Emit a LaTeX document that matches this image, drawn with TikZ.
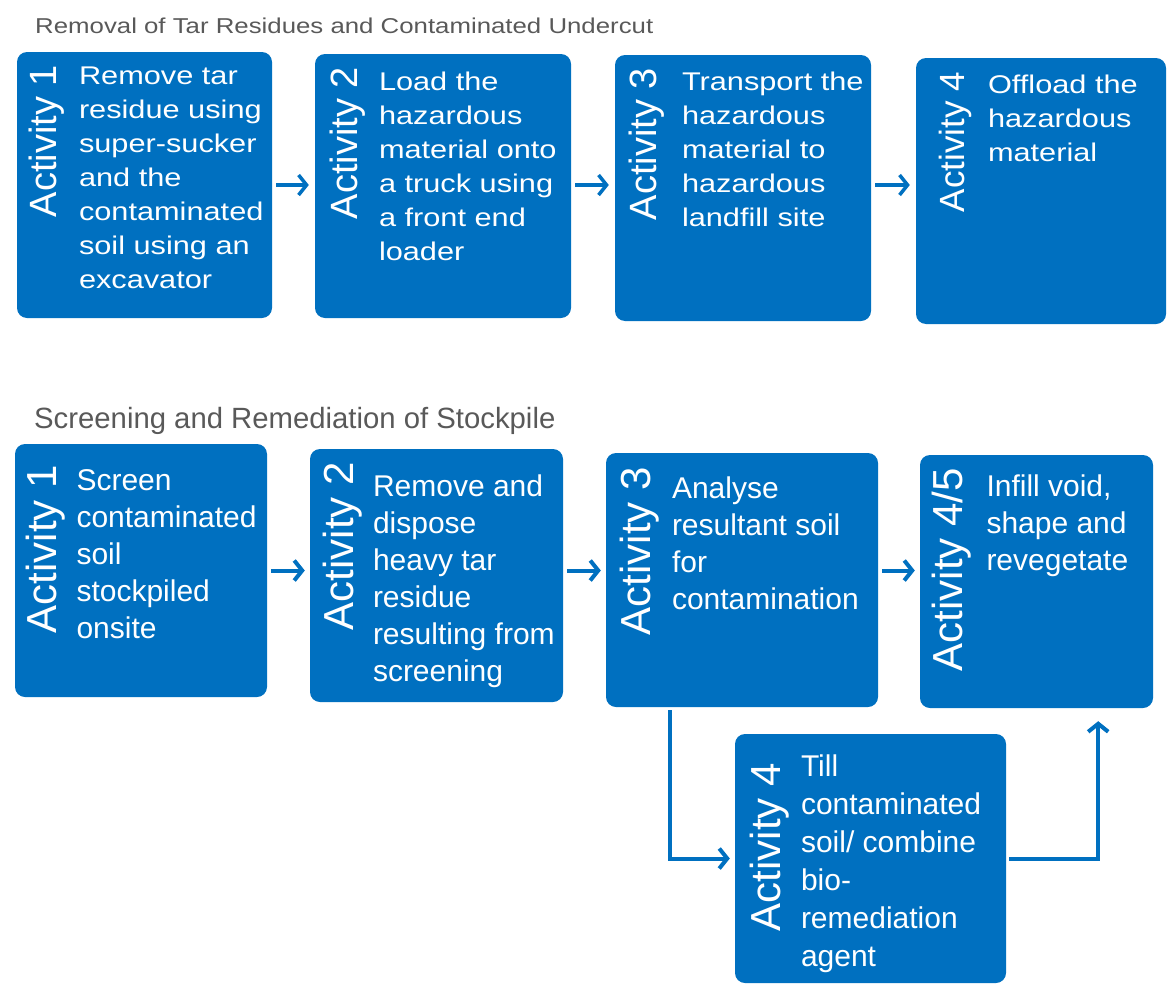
\documentclass[tikz,border=0pt]{standalone}
\usepackage{fontspec}
\setmainfont{Liberation Sans}
\newfontfamily\widesans[FakeStretch=1.2]{Liberation Sans}
\usetikzlibrary{arrows.meta, positioning}
\definecolor{actblue}{RGB}{0,112,192}
\definecolor{headgray}{RGB}{89,89,89}

\begin{document}
\begin{tikzpicture}[x=1pt, y=-1pt,
    actbox/.style={fill=actblue, rounded corners=10pt, inner sep=0pt},
    actlabel/.style={rotate=90, anchor=base east, text=white, inner sep=0pt},
    acttext/.style={anchor=north west, align=left, text=white, inner sep=0pt},
    flow/.style={actblue, line width=3.5pt, -{Straight Barb[length=8pt, width=20pt]}}]

    \useasboundingbox (0,0) rectangle (1168,985);

    % Titles
    \node[anchor=base west, inner sep=0pt, text=headgray, font=\widesans\fontsize{21.5}{21.5}\selectfont] (title1) at (35,33) {Removal of Tar Residues and Contaminated Undercut};
    \node[anchor=base west, inner sep=0pt, text=headgray, font=\fontsize{29.3}{29.3}\selectfont] (title2) at (34,428) {Screening and Remediation of Stockpile};

    % Top row boxes
    \node[actbox, minimum width=255, minimum height=266] (t1) at (144.5,185) {};
    \node[actbox, minimum width=256, minimum height=264] (t2) at (443,186) {};
    \node[actbox, minimum width=256, minimum height=266] (t3) at (743,188) {};
    \node[actbox, minimum width=250, minimum height=266] (t4) at (1041,191) {};

    % Top row labels
    \node[actlabel, font=\fontsize{38}{38}\selectfont] (t1l) at ([shift={(40,13)}]t1.north west) {Activity 1};
    \node[actlabel, font=\fontsize{38}{38}\selectfont] (t2l) at ([shift={(43,13)}]t2.north west) {Activity 2};
    \node[actlabel, font=\fontsize{38}{38}\selectfont] (t3l) at ([shift={(42,13)}]t3.north west) {Activity 3};
    \node[actlabel, font=\fontsize{35}{35}\selectfont] (t4l) at ([shift={(49,14)}]t4.north west) {Activity 4};

    % Top row texts
    \node[acttext, font=\widesans\fontsize{25.6}{34}\selectfont] (t1t) at ([shift={(62,15)}]t1.north west)
        {Remove tar\\residue using\\super-sucker\\and the\\contaminated\\soil using an\\excavator};
    \node[acttext, font=\widesans\fontsize{25.6}{34}\selectfont] (t2t) at ([shift={(64,18)}]t2.north west)
        {Load the\\hazardous\\material onto\\a truck using\\a front end\\loader};
    \node[acttext, font=\widesans\fontsize{25.6}{34}\selectfont] (t3t) at ([shift={(67,17)}]t3.north west)
        {Transport the\\hazardous\\material to\\hazardous\\landfill site};
    \node[acttext, font=\widesans\fontsize{25.6}{34}\selectfont] (t4t) at ([shift={(72,17)}]t4.north west)
        {Offload the\\hazardous\\material};

    % Top row arrows
    \foreach \a/\b in {t1/t2, t2/t3, t3/t4} {
        \draw[flow, shorten <=4pt, shorten >=6pt] (\a.east |- t1.east) -- (\b.west |- t1.east);
    }

    % Bottom row boxes
    \node[actbox, minimum width=252, minimum height=253] (b1) at (141,570.5) {};
    \node[actbox, minimum width=253, minimum height=253] (b2) at (436.5,575.5) {};
    \node[actbox, minimum width=272, minimum height=254] (b3) at (742,580) {};
    \node[actbox, minimum width=233, minimum height=253] (b45) at (1036.5,581.5) {};
    \node[actbox, minimum width=271, minimum height=249] (b4) at (870.5,858.5) {};

    % Bottom row labels
    \node[actlabel, font=\fontsize{42}{42}\selectfont] (b1l) at ([shift={(42,21)}]b1.north west) {Activity 1};
    \node[actlabel, font=\fontsize{42}{42}\selectfont] (b2l) at ([shift={(44,13)}]b2.north west) {Activity 2};
    \node[actlabel, font=\fontsize{42}{42}\selectfont] (b3l) at ([shift={(45,14)}]b3.north west) {Activity 3};
    \node[actlabel, font=\fontsize{42}{42}\selectfont] (b45l) at ([shift={(43,13)}]b45.north west) {Activity 4/5};
    \node[actlabel, font=\fontsize{42}{42}\selectfont] (b4l) at ([shift={(46,29)}]b4.north west) {Activity 4};

    % Bottom row texts
    \node[acttext, font=\fontsize{30}{37}\selectfont] (b1t) at ([shift={(61.5,26)}]b1.north west)
        {Screen\\contaminated\\soil\\stockpiled\\onsite};
    \node[acttext, font=\fontsize{30}{37}\selectfont] (b2t) at ([shift={(63,26)}]b2.north west)
        {Remove and\\dispose\\heavy tar\\residue\\resulting from\\screening};
    \node[acttext, font=\fontsize{30}{37}\selectfont] (b3t) at ([shift={(66,24)}]b3.north west)
        {Analyse\\resultant soil\\for\\contamination};
    \node[acttext, font=\fontsize{30}{37}\selectfont] (b45t) at ([shift={(66.5,20)}]b45.north west)
        {Infill void,\\shape and\\revegetate};
    \node[acttext, font=\fontsize{30}{38}\selectfont] (b4t) at ([shift={(66,21)}]b4.north west)
        {Till\\contaminated\\soil/ combine\\bio-\\remediation\\agent};

    % Bottom row arrows
    \foreach \a/\b in {b1/b2, b2/b3, b3/b45} {
        \draw[flow, line width=4pt, shorten <=4pt, shorten >=5pt] (\a.east |- b1.east) -- (\b.west |- b1.east);
    }
    \draw[flow, line width=4pt, shorten <=3pt, shorten >=5pt] ([xshift=64pt]b3.south west) |- (b4.west);
    \draw[flow, line width=4pt, shorten <=3pt, shorten >=13pt] (b4.east) -| ([xshift=-55pt]b45.south east);

\end{tikzpicture}
\end{document}
